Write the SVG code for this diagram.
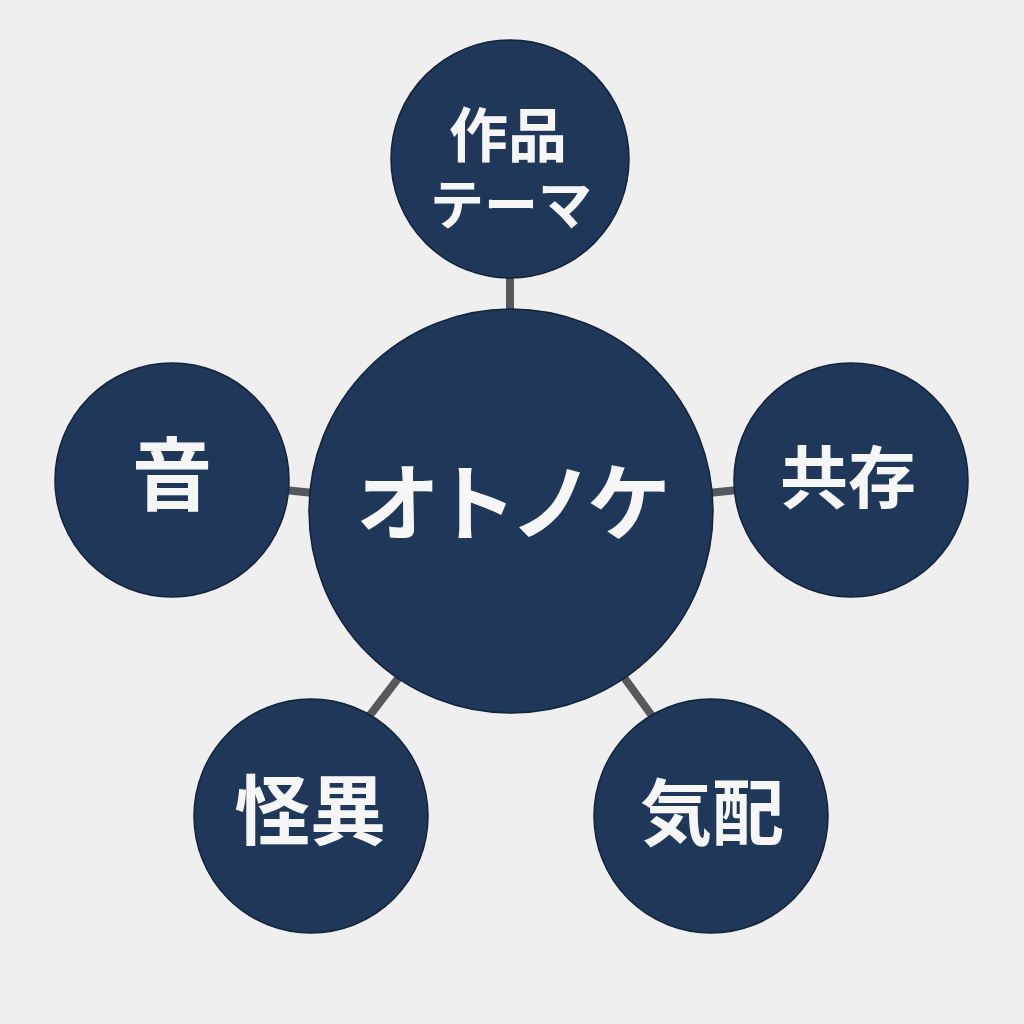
<svg xmlns="http://www.w3.org/2000/svg" width="1024" height="1024" viewBox="0 0 1024 1024">
<style>
.node{fill:#1f3859;stroke:#12233a;stroke-width:1.5}
.lbl{fill:#f6f6f6;font-family:"Noto Sans CJK JP","Noto Sans CJK SC",sans-serif;font-weight:700;text-anchor:middle;dominant-baseline:central}
.conn{stroke:#55595d;stroke-width:8;fill:none}
</style>
<rect width="1024" height="1024" fill="#efefef"/>
<g id="connectors">
<line class="conn" x1="510" y1="274" x2="510" y2="314"/>
<line class="conn" x1="284" y1="490" x2="314" y2="493"/>
<line class="conn" x1="708" y1="493" x2="738" y2="490"/>
<line class="conn" x1="400" y1="676" x2="367" y2="719"/>
<line class="conn" x1="623" y1="676" x2="655" y2="720"/>
</g>
<g id="node-center">
<circle class="node" cx="511" cy="511" r="202"/>
<text class="lbl" x="510" y="497" font-size="84" letter-spacing="-7">オトノケ</text>
</g>
<g id="node-theme">
<circle class="node" cx="510" cy="159" r="119"/>
<text class="lbl"><tspan x="508" y="131" font-size="59">作品</tspan><tspan x="511" y="201" font-size="54">テーマ</tspan></text>
</g>
<g id="node-oto">
<circle class="node" cx="172" cy="480" r="117"/>
<text class="lbl" x="172" y="469" font-size="80">音</text>
</g>
<g id="node-kyouzon">
<circle class="node" cx="851" cy="480" r="117"/>
<text class="lbl" x="848" y="473" font-size="68">共存</text>
</g>
<g id="node-kaii">
<circle class="node" cx="311" cy="816" r="117"/>
<text class="lbl" x="310" y="806" font-size="76">怪異</text>
</g>
<g id="node-kehai">
<circle class="node" cx="711" cy="816" r="117"/>
<text class="lbl" x="712" y="807" font-size="72">気配</text>
</g>
</svg>
